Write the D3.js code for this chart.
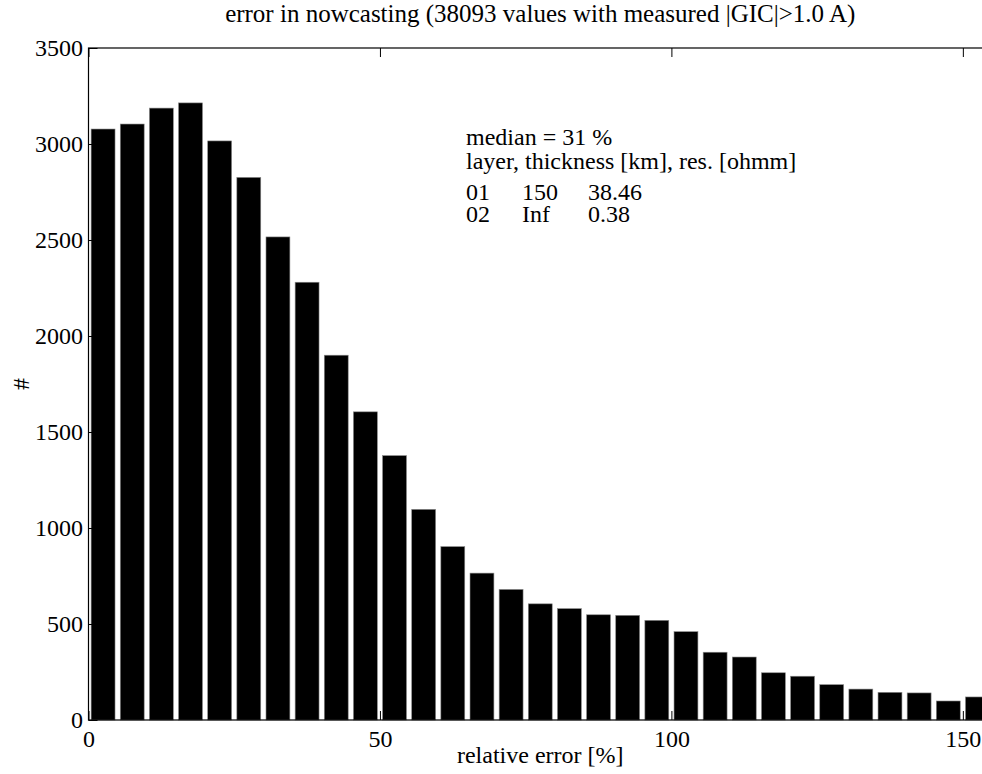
<!DOCTYPE html>
<html>
<head>
<meta charset="utf-8">
<script src="https://cdn.jsdelivr.net/npm/d3@7"></script>
<style>
  body { margin: 0; background: #fff; }
  svg, svg text { font-family: "Liberation Serif", "Times New Roman", serif !important; fill: #000; }
</style>
</head>
<body>
<div id="chart"></div>
<script>
// histogram bins (centre of each 5 % bin) and counts
var binCenters = [2.5, 7.5, 12.5, 17.5, 22.5, 27.5, 32.5, 37.5, 42.5, 47.5,
  52.5, 57.5, 62.5, 67.5, 72.5, 77.5, 82.5, 87.5, 92.5, 97.5,
  102.5, 107.5, 112.5, 117.5, 122.5, 127.5, 132.5, 137.5, 142.5, 147.5, 152.5];
var counts = [3078, 3104, 3187, 3214, 3016, 2826, 2516, 2280, 1900, 1605,
  1377, 1097, 903, 765, 680, 605, 580, 548, 545, 519,
  460, 353, 328, 246, 228, 184, 161, 144, 141, 99, 120];
var xTicks = [0, 50, 100, 150];
var yTicks = [0, 500, 1000, 1500, 2000, 2500, 3000, 3500];
var infoLines = ["median = 31 %", "layer, thickness [km], res. [ohmm]"];
var layerRows = [["01", "150", "38.46"], ["02", "Inf", "0.38"]];

var W = 982, H = 774;
var margin = { top: 48, right: -10, bottom: 54, left: 88.5 },
  width = W - margin.left - margin.right,
  height = H - margin.top - margin.bottom;

var svg = d3
  .select("#chart")
  .append("svg")
  .attr("width", W)
  .attr("height", H);

var g = svg
  .append("g")
  .attr("transform", "translate(" + margin.left + "," + margin.top + ")");

var x = d3.scaleLinear().domain([0, 155]).range([0, width]);
var y = d3.scaleLinear().domain([0, 3500]).range([height, 0]);
var barHalf = 2.05;

// bars
g.selectAll(".bar")
  .data(binCenters)
  .enter()
  .append("rect")
  .attr("class", "bar")
  .attr("x", (d) => x(d - barHalf))
  .attr("width", (d) => x(d + barHalf) - x(d - barHalf))
  .attr("y", (d, i) => y(counts[i]))
  .attr("height", (d, i) => height - y(counts[i]))
  .attr("fill", "#000")
  .attr("stroke", "#888")
  .attr("stroke-width", 0.6);

// axes box (MATLAB style, ticks inside)
var fs = "24px";
var tickLen = 9;

g.append("rect")
  .attr("x", 0).attr("y", 0)
  .attr("width", width).attr("height", height)
  .attr("fill", "none")
  .attr("stroke", "#000")
  .attr("stroke-width", 1.2);

var fmt = d3.format("d");
var bottomAxis = g.append("g")
  .attr("transform", "translate(0," + height + ")")
  .call(d3.axisBottom(x).tickValues(xTicks).tickSize(-tickLen).tickPadding(10).tickFormat(fmt));
var topAxis = g.append("g")
  .call(d3.axisTop(x).tickValues(xTicks).tickSize(-tickLen).tickFormat(""));
var leftAxis = g.append("g")
  .call(d3.axisLeft(y).tickValues(yTicks).tickSize(-tickLen).tickPadding(5.5).tickFormat(fmt));

[bottomAxis, topAxis, leftAxis].forEach(function (a) {
  a.attr("font-family", null).attr("font-size", null);
  a.select(".domain").remove();
  a.selectAll("line").attr("stroke", "#000").attr("stroke-width", 1);
  a.selectAll("text").style("font-size", fs).attr("fill", "#000");
});
bottomAxis.selectAll("text").attr("dy", "0.71em");

// title and labels
svg.append("text")
  .attr("x", margin.left + width / 2)
  .attr("y", 22)
  .attr("text-anchor", "middle")
  .style("font-size", "25px")
  .text("error in nowcasting (38093 values with measured |GIC|>1.0 A)");

svg.append("text")
  .attr("x", margin.left + width / 2)
  .attr("y", 763)
  .attr("text-anchor", "middle")
  .style("font-size", fs)
  .text("relative error [%]");

svg.append("text")
  .attr("transform", "translate(29," + (margin.top + height / 2) + ") rotate(-90)")
  .attr("text-anchor", "middle")
  .style("font-size", fs)
  .text("#");

// annotation
var ann = svg.append("g").attr("transform", "translate(466,0)");
ann.selectAll(".info")
  .data(infoLines)
  .enter()
  .append("text")
  .attr("class", "info")
  .attr("x", 0)
  .attr("y", (d, i) => 145 + i * 24)
  .style("font-size", fs)
  .text((d) => d);

var colX = [0, 56, 122];
layerRows.forEach(function (row, r) {
  ann.selectAll(".row" + r)
    .data(row)
    .enter()
    .append("text")
    .attr("x", (d, c) => colX[c])
    .attr("y", 200 + r * 22)
    .style("font-size", fs)
    .text((d) => d);
});
</script>
</body>
</html>
